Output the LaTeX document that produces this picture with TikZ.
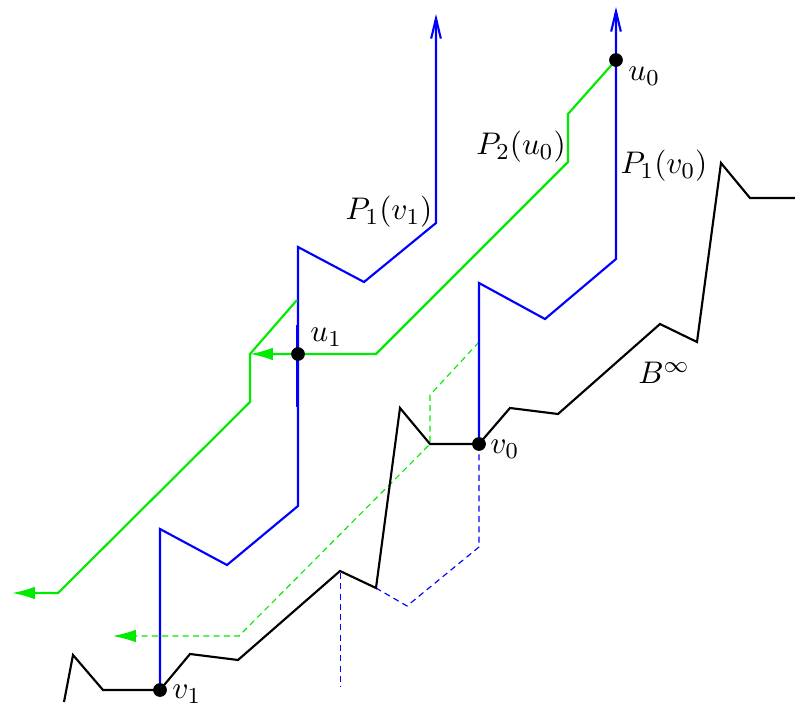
\documentclass[tikz,border=0pt]{standalone}
\usepackage{amsmath,amssymb}
\usepackage{tikz}
\usetikzlibrary{arrows.meta,positioning}
\definecolor{pathBlue}{RGB}{0,0,255}
\definecolor{pathGreen}{RGB}{0,235,0}
\tikzset{
  bluepath/.style={pathBlue, line width=0.75pt},
  greenpath/.style={pathGreen, line width=0.75pt},
  bluedash/.style={pathBlue, line width=0.4pt, dash pattern=on 2.1pt off 1.5pt},
  greendash/.style={pathGreen, line width=0.4pt, dash pattern=on 2.1pt off 1.5pt},
  boundary/.style={black, line width=0.75pt},
  greentip/.style={-{Latex[length=8pt,width=4.4pt]}},
  bluetip/.style={-{Straight Barb[length=7pt,width=3.4pt]}},
  vertexdot/.style={fill=black},
  vlabel/.style={inner sep=1pt, font=\fontsize{10.95}{13}\selectfont}
}
\begin{document}
\begin{tikzpicture}[x=0.35pt,y=-0.35pt]
\useasboundingbox (0,0) rectangle (795,709);

% vertices
\coordinate (v1) at (160,690);
\coordinate (v0) at (479,444);
\coordinate (u1) at (298,354);
\coordinate (u0) at (616,60);

% dashed continuations
\draw[bluedash] (v0)--(479,547)--(407,606)--(376,588);
\draw[bluedash] (340.5,573)--(340.5,687);
\draw[greendash, greentip] (479,342)--(430,395)--(430,444)--(239,636)--(113,636);

% boundary B^infty
\draw[boundary] (64,702)--(73,655)--(103,690)--(v1)--(190,654)--(238,660)
  --(340,571)--(376,588)--(400,408)--(430,444)--(v0)--(510,408)--(558,414)
  --(660,324)--(697,342)--(721,163)--(750,198)--(795,198);

% blue paths P_1
\draw[bluepath, bluetip] (v1)--(160,529)--(227,565)--(298,506)--(298,247)
  --(364,282)--(436,223)--(436,14);
\draw[bluepath] (297.3,325)--(297.3,407);
\draw[bluepath, bluetip] (v0)--(479,283)--(545,319)--(616,259)--(616,7);

% green paths P_2
\draw[greenpath, greentip] (u0)--(568,114)--(568,162)--(376,354)--(u1)--(250,354);
\draw[greenpath, greentip] (297,300)--(250,354)--(250,402)--(58,593)--(12,593);

% dots
\foreach \p in {v0,v1,u0,u1} \fill[vertexdot] (\p) circle (2.4pt);

% labels
\node[vlabel, anchor=north west] (lu0) at (625,64) {$u_0$};
\node[vlabel, anchor=south west] (lu1) at (307,350) {$u_1$};
\node[vlabel, anchor=north west] (lv0) at (487,437) {$v_0$};
\node[vlabel, anchor=north west] (lv1) at (169,682) {$v_1$};
\node[vlabel] (lp1v1) at (389,212) {$P_1(v_1)$};
\node[vlabel] (lp2u0) at (521,147) {$P_2(u_0)$};
\node[vlabel] (lp1v0) at (664,166) {$P_1(v_0)$};
\node[vlabel] (lbinf) at (664,373) {$B^\infty$};
\end{tikzpicture}
\end{document}
